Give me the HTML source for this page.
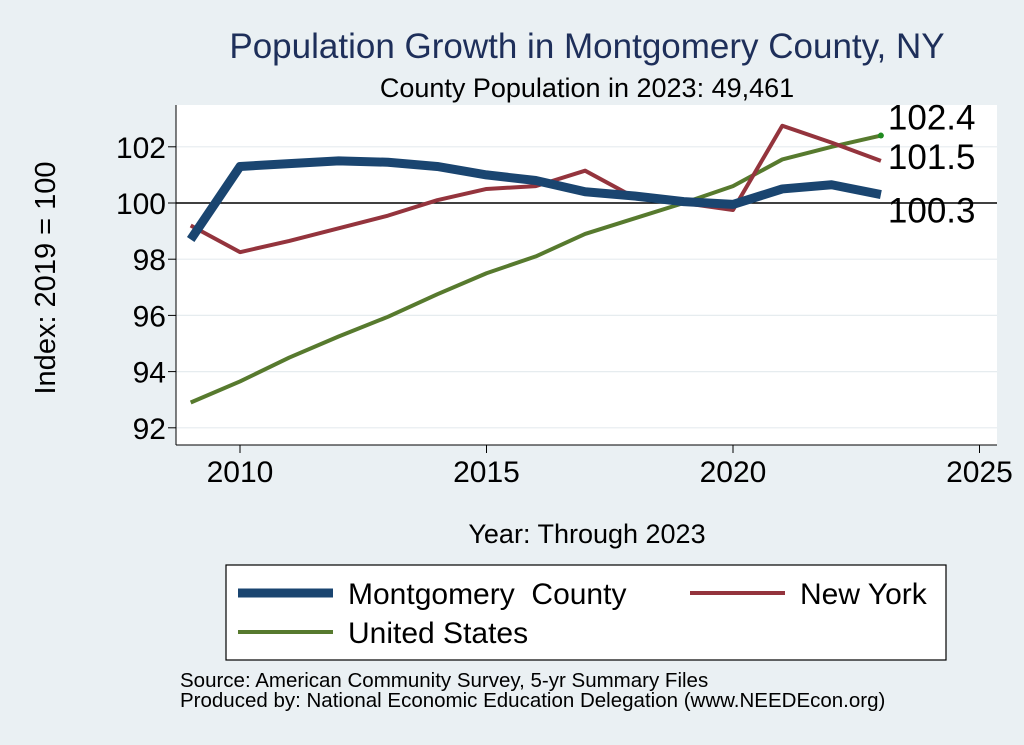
<!DOCTYPE html>
<html><head><meta charset="utf-8"><style>
body{margin:0;background:#eaf0f3;}
svg{display:block;font-family:"Liberation Sans",Arial,sans-serif;}
</style></head><body>
<svg id="c" width="1024" height="745">
<rect x="0" y="0" width="1024" height="745" fill="#eaf0f3"/>
<rect x="176" y="105" width="821" height="340" fill="#ffffff"/>
<text x="587" y="58" font-size="35" fill="#1e2f5a" text-anchor="middle">Population Growth in Montgomery County, NY</text>
<text x="587" y="97" font-size="27" fill="#000" text-anchor="middle">County Population in 2023: 49,461</text>
<g id="grid"></g><g id="axes"></g><g id="series"></g>
<text x="587" y="543" font-size="27" text-anchor="middle">Year: Through 2023</text>
<text transform="translate(55,278) rotate(-90)" font-size="29" text-anchor="middle">Index: 2019 = 100</text>
<g>
<rect x="226" y="565" width="720" height="95" fill="#fff" stroke="#000" stroke-width="1.2"/>
<line x1="238" y1="593" x2="333" y2="593" stroke="#1a4570" stroke-width="9"/>
<text x="348" y="604" font-size="30">Montgomery&#160; County</text>
<line x1="690" y1="593" x2="785" y2="593" stroke="#94343d" stroke-width="4"/>
<text x="800" y="604" font-size="30">New York</text>
<line x1="238" y1="632" x2="333" y2="632" stroke="#577a2e" stroke-width="4"/>
<text x="348" y="643" font-size="30">United States</text>
</g>
<text x="180" y="687" font-size="20.5">Source: American Community Survey, 5-yr Summary Files</text>
<text x="180" y="707" font-size="20.5">Produced by: National Economic Education Delegation (www.NEEDEcon.org)</text>
</svg>
<script>
const years=[2009,2010,2011,2012,2013,2014,2015,2016,2017,2018,2019,2020,2021,2022,2023];
const montgomery=[98.7,101.3,101.4,101.5,101.45,101.3,101.0,100.8,100.4,100.25,100.05,99.95,100.5,100.65,100.3];
const newYork=[99.2,98.25,98.65,99.1,99.55,100.1,100.5,100.6,101.15,100.2,100.0,99.75,102.75,102.15,101.5];
const unitedStates=[92.9,93.65,94.5,95.25,95.95,96.75,97.5,98.1,98.9,99.45,100,100.6,101.55,102.0,102.4];
const xTicks=[2010,2015,2020,2025];
const yTicks=[92,94,96,98,100,102];
const endLabels=["100.3","101.5","102.4"];
const NS="http://www.w3.org/2000/svg";
const X=v=>240+(v-2010)*49.3;
const Y=v=>203-(v-100)*28.1;
function mk(t,a,p){const e=document.createElementNS(NS,t);for(const k in a)e.setAttribute(k,a[k]);p.appendChild(e);return e;}
const grid=document.getElementById('grid'),axes=document.getElementById('axes'),ser=document.getElementById('series');
yTicks.forEach(v=>{
 const g=mk('line',{x1:176,x2:997,y1:Y(v),y2:Y(v),stroke:v===100?'#000':'#e6ecef','stroke-width':v===100?1.5:1.2},grid);
 
 
 const t=mk('line',{x1:168,x2:176,y1:Y(v),y2:Y(v),stroke:'#000'},axes);
 
 
 const l=mk('text',{x:166,y:Y(v)+11,'font-size':30,'text-anchor':'end'},axes);l.textContent=v;
 
 
});
xTicks.forEach(v=>{
 const t=mk('line',{x1:X(v),x2:X(v),y1:445,y2:453,stroke:'#000'},axes);
 
 
 const l=mk('text',{x:X(v),y:482,'font-size':30,'text-anchor':'middle'},axes);l.textContent=v;
 
 
});
const ya=mk('line',{x1:176,x2:176,y1:105,y2:445,stroke:'#000'},axes);


const xa=mk('line',{x1:176,x2:997,y1:445,y2:445,stroke:'#000'},axes);


function line(vals,col,w,name){
 const p=mk('polyline',{points:vals.map((v,i)=>X(years[i])+','+Y(v)).join(' '),fill:'none',stroke:col,'stroke-width':w,'stroke-linejoin':'round'},ser);
 
 
}
line(unitedStates,'#577a2e',4,'line-united-states');
line(newYork,'#94343d',4,'line-new-york');
line(montgomery,'#1a4570',9,'line-montgomery');
const last=years.length-1;
const dot=mk('circle',{cx:X(years[last]),cy:Y(unitedStates[last]),r:3,fill:'#1f8a1f'},ser);


[[montgomery,endLabels[0],28,'end-label-montgomery'],[newYork,endLabels[1],8,'end-label-new-york'],[unitedStates,endLabels[2],-6,'end-label-us']].forEach(([s,txt,dy,n])=>{
 const t=mk('text',{x:X(years[last])+7,y:Y(s[last])+dy,'font-size':35},ser);t.textContent=txt;
 
 
});
</script>
</body></html>
